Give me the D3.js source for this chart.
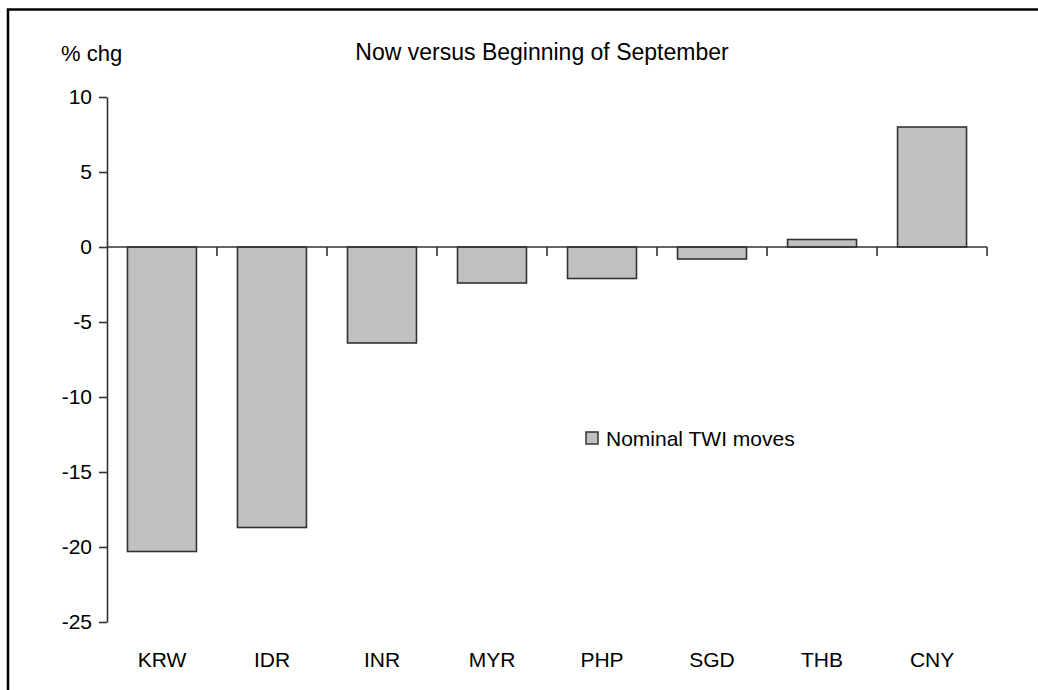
<!DOCTYPE html>
<html>
<head>
<meta charset="utf-8">
<script src="https://d3js.org/d3.v7.min.js"></script>
<style>
    body { margin: 0; background: #fff; }
    svg text { font-family: "Liberation Sans", Arial, sans-serif; fill: #000; }
</style>
</head>
<body>
<script>
const width = 1038;
const height = 690;

//chart data
var currencies = ['KRW', 'IDR', 'INR', 'MYR', 'PHP', 'SGD', 'THB', 'CNY'];
var twiMoves = [-20.3, -18.7, -6.4, -2.4, -2.1, -0.8, 0.5, 8.0];
var yTicks = [10, 5, 0, -5, -10, -15, -20, -25];

var data = currencies.map((c, i) => ({ name: c, value: twiMoves[i] }));

//scales
var xScale = d3.scaleBand()
                .domain(currencies)
                .range([107, 987])
                .paddingInner(0.373)
                .paddingOuter(0.186);
var yScale = d3.scaleLinear()
                .domain([-25, 10])
                .range([622, 97]);

//svg
var svg = d3.select('body')
            .append('svg')
                .attr('width', width)
                .attr('height', height);

//frame (right and bottom edges run off the picture)
svg.append('rect')
    .attr('x', 8)
    .attr('y', 9.5)
    .attr('width', 1100)
    .attr('height', 800)
    .attr('fill', 'none')
    .attr('stroke', '#000')
    .attr('stroke-width', 2.5);

//y axis - plain hyphen for negatives like the original
var yAxis = svg.append('g')
    .attr('transform', 'translate(107, 0)')
    .call(d3.axisLeft(yScale)
        .tickValues(yTicks)
        .tickFormat(d => String(d))
        .tickSize(8)
        .tickPadding(7)
        .tickSizeOuter(0));
yAxis.selectAll('text').style('font-size', '21px');

//bars
svg.selectAll('rect.bar')
    .data(data)
    .enter()
    .append('rect')
        .classed('bar', true)
        .attr('x', d => xScale(d.name))
        .attr('y', d => yScale(Math.max(0, d.value)))
        .attr('width', xScale.bandwidth())
        .attr('height', d => Math.abs(yScale(d.value) - yScale(0)))
        .attr('fill', '#c0c0c0')
        .attr('stroke', '#333')
        .attr('stroke-width', 1.6);

//x axis along zero, ticks between categories pointing down
var xAxis = svg.append('g')
    .attr('transform', `translate(0, ${yScale(0)})`);
xAxis.append('line')
    .attr('x1', 107)
    .attr('x2', 987)
    .attr('stroke', '#333')
    .attr('stroke-width', 1.6);
xAxis.selectAll('line.tick')
    .data(currencies)
    .enter()
    .append('line')
        .classed('tick', true)
        .attr('x1', d => xScale(d) + xScale.bandwidth() + xScale.step() * xScale.paddingInner() / 2)
        .attr('x2', d => xScale(d) + xScale.bandwidth() + xScale.step() * xScale.paddingInner() / 2)
        .attr('y1', 0)
        .attr('y2', 9)
        .attr('stroke', '#333')
        .attr('stroke-width', 1.6);

//category labels at the bottom
svg.selectAll('text.cat')
    .data(currencies)
    .enter()
    .append('text')
        .classed('cat', true)
        .attr('x', d => xScale(d) + xScale.bandwidth() / 2)
        .attr('y', 667)
        .attr('text-anchor', 'middle')
        .style('font-size', '21px')
        .text(d => d);

//axis styling
svg.selectAll('.domain, .tick line').attr('stroke', '#333').attr('stroke-width', 1.6);

//title and unit label
svg.append('text')
    .attr('x', 542)
    .attr('y', 60)
    .attr('text-anchor', 'middle')
    .style('font-size', '23px')
    .text('Now versus Beginning of September');
svg.append('text')
    .attr('x', 61)
    .attr('y', 61)
    .style('font-size', '22px')
    .text('% chg');

//legend
var legend = svg.append('g').attr('transform', 'translate(586, 432)');
legend.append('rect')
    .attr('width', 12)
    .attr('height', 12)
    .attr('fill', '#c0c0c0')
    .attr('stroke', '#333')
    .attr('stroke-width', 1.5);
legend.append('text')
    .attr('x', 20)
    .attr('y', 14)
    .style('font-size', '21px')
    .text('Nominal TWI moves');
</script>
</body>
</html>
